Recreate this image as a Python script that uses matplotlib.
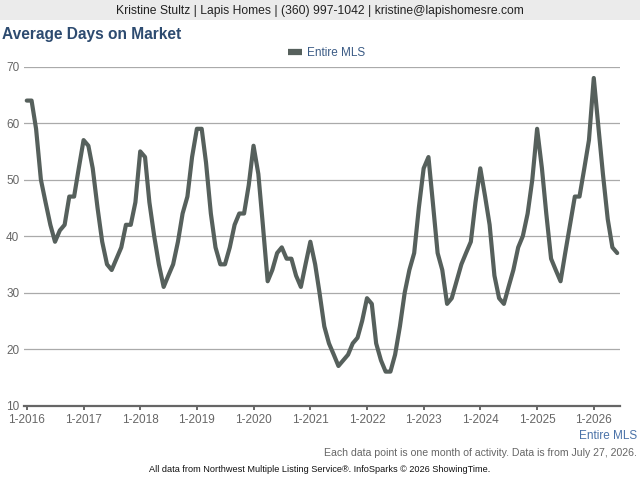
import matplotlib.pyplot as plt
import matplotlib.dates as mdates
from matplotlib.patches import Rectangle
import pandas as pd

plt.rcParams['font.family'] = ['Liberation Sans', 'DejaVu Sans']

# average days on market, monthly, Jan 2016 - Jun 2026
dom_2016 = [64, 64, 59, 50, 46, 42, 39, 41, 42, 47, 47, 52]
dom_2017 = [57, 56, 52, 45, 39, 35, 34, 36, 38, 42, 42, 46]
dom_2018 = [55, 54, 46, 40, 35, 31, 33, 35, 39, 44, 47, 54]
dom_2019 = [59, 59, 53, 44, 38, 35, 35, 38, 42, 44, 44, 49]
dom_2020 = [56, 51, 42, 32, 34, 37, 38, 36, 36, 33, 31, 35]
dom_2021 = [39, 35, 30, 24, 21, 19, 17, 18, 19, 21, 22, 25]
dom_2022 = [29, 28, 21, 18, 16, 16, 19, 24, 30, 34, 37, 45]
dom_2023 = [52, 54, 46, 37, 34, 28, 29, 32, 35, 37, 39, 46]
dom_2024 = [52, 47, 42, 33, 29, 28, 31, 34, 38, 40, 44, 50]
dom_2025 = [59, 52, 44, 36, 34, 32, 37, 42, 47, 47, 52, 57]
dom_2026 = [68, 59, 51, 43, 38, 37]

values = (dom_2016 + dom_2017 + dom_2018 + dom_2019 + dom_2020 + dom_2021
          + dom_2022 + dom_2023 + dom_2024 + dom_2025 + dom_2026)
months = pd.date_range("2016-01-01", periods=len(values), freq="MS")
series_name = "Entire MLS"
y_ticks = [10, 20, 30, 40, 50, 60, 70]

fig = plt.figure(figsize=(6.4, 4.8), dpi=100)

# header band
fig.patches.append(Rectangle((0, 1 - 20 / 480), 1, 20 / 480, transform=fig.transFigure,
                             facecolor="#EBEBEB", edgecolor="none", zorder=0))
fig.text(0.5, 1 - 11 / 480, "Kristine Stultz | Lapis Homes | (360) 997-1042 | kristine@lapishomesre.com",
         ha="center", va="center", fontsize=8.7, color="#222222")
fig.text(2 / 640, 1 - 35 / 480, "Average Days on Market", ha="left", va="center",
         fontsize=11.2, fontweight="bold", color="#2D4B70")

ax = fig.add_axes([23.5 / 640, 1 - 405.5 / 480, (620 - 23.5) / 640, (405.5 - 66.7) / 480])
ax.plot(months, values, color="#56605C", lw=3, solid_joinstyle="round",
        solid_capstyle="round", label=series_name)

ax.set_ylim(10, 70)
ax.set_yticks(y_ticks)
ax.set_xlim(months[0] - pd.Timedelta(days=21), months[-1] + pd.Timedelta(days=18))
ax.xaxis.set_major_locator(mdates.YearLocator())
ax.xaxis.set_major_formatter(mdates.DateFormatter("%-m-%Y"))

ax.grid(axis="y", color="#AAAAAA", lw=0.9)
ax.set_axisbelow(True)
for s in ["top", "right", "left"]:
    ax.spines[s].set_visible(False)
ax.spines["bottom"].set_color("#666666")
ax.spines["bottom"].set_linewidth(1.6)
ax.tick_params(axis="y", length=0, pad=3, labelsize=8.5, labelcolor="#666666")
ax.tick_params(axis="x", length=3, width=1.4, color="#666666", pad=3,
               labelsize=8.5, labelcolor="#666666")

leg = ax.legend(loc="center", bbox_to_anchor=(0.51, 1 - 53 / 480), bbox_transform=fig.transFigure,
                frameon=False, fontsize=8.5, labelcolor="#3B5B85", handlelength=1.2,
                handletextpad=0.4)
for h in leg.get_lines():
    h.set_linewidth(4.5)
    h.set_solid_capstyle("butt")

fig.text(637 / 640, 1 - 436 / 480, "Entire MLS", ha="right", va="center",
         fontsize=8.5, color="#4A72A8")
fig.text(637 / 640, 1 - 453 / 480, "Each data point is one month of activity. Data is from July 27, 2026.",
         ha="right", va="center", fontsize=7.55, color="#666666")
fig.text(0.5, 1 - 470 / 480, "All data from Northwest Multiple Listing Service®. InfoSparks © 2026 ShowingTime.",
         ha="center", va="center", fontsize=6.6, color="#111111")

fig.savefig("out.png", dpi=100)
